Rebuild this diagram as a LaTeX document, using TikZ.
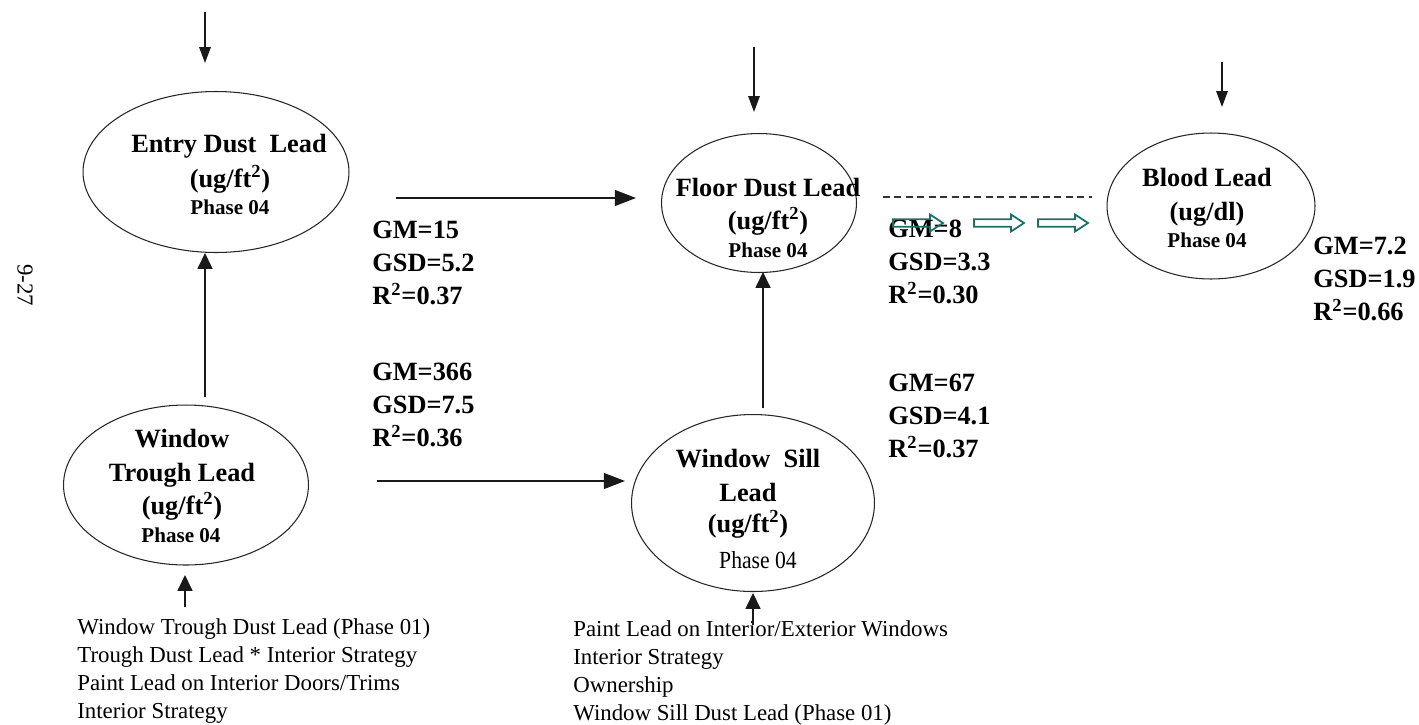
\documentclass[tikz,border=0pt]{standalone}
\usepackage{fontspec}
\setmainfont{Liberation Serif}
\usetikzlibrary{arrows.meta,shapes.geometric}
\definecolor{tealarrow}{RGB}{25,112,104}
\begin{document}
\begin{tikzpicture}[x=0.02cm,y=-0.02cm,
  oval/.style={draw=black!85, line width=0.6pt, ellipse, inner sep=0pt},
  title/.style={font=\fontsize{15}{18}\selectfont\bfseries, anchor=base, inner sep=0pt},
  phase/.style={font=\fontsize{12}{14}\selectfont\bfseries, anchor=base, inner sep=0pt},
  stat/.style={font=\fontsize{15}{18.8}\selectfont\bfseries, align=left, anchor=north west, inner sep=0pt},
  cov/.style={font=\fontsize{13}{15.9}\selectfont, align=left, anchor=north west, inner sep=0pt},
  arr/.style={line width=0.8pt, draw=black!90, -{Triangle[length=9pt,width=6.5pt]}},
  uparr/.style={line width=0.8pt, draw=black!90, -{Triangle[length=9pt,width=8.5pt]}},
  harr/.style={line width=0.9pt, draw=black!90, -{Triangle[length=12pt,width=9pt]}},
  dash line/.style={line width=0.6pt, draw=black!80, dash pattern=on 4pt off 2.5pt},
  hollow/.pic={\draw[tealarrow, line width=1pt, line join=miter]
     (0,-3.8) -- (37,-3.8) -- (37,-8.5) -- (50,0) -- (37,8.5) -- (37,3.8) -- (0,3.8) -- cycle;}
]
\path[fill=white] (0,0) rectangle (1419,724);
\useasboundingbox (0,0) rectangle (1419,724);

% page number
\node[font=\fontsize{13}{15}\selectfont, rotate=-90, inner sep=0pt] (pg) at (25,285) {9-27};

% ellipses
\node[oval, minimum width=5.32cm, minimum height=3.22cm] (entry) at (216,172) {};
\node[oval, minimum width=4.9cm, minimum height=3.2cm] (trough) at (186,485) {};
\node[oval, minimum width=3.9cm, minimum height=2.78cm] (floor) at (759,203) {};
\node[oval, minimum width=4.86cm, minimum height=3.54cm] (sill) at (753,503) {};
\node[oval, minimum width=4.16cm, minimum height=2.92cm] (blood) at (1211,206) {};

% ellipse texts
\node[title] (entryA) at (229,152) {Entry Dust~ Lead};
\node[title] (entryB) at (230,187) {(ug/ft\textsuperscript{2})};
\node[phase] (entryC) at (230,214) {Phase 04};

\node[title] (troughA) at (182,447) {Window};
\node[title] (troughB) at (182,481) {Trough Lead};
\node[title] (troughC) at (182,514) {(ug/ft\textsuperscript{2})};
\node[phase] (troughD) at (181,542) {Phase 04};

\node[title] (floorA) at (768,196) {Floor Dust Lead};
\node[title] (floorB) at (768,229) {(ug/ft\textsuperscript{2})};
\node[phase] (floorC) at (768,257) {Phase 04};

\node[title] (sillA) at (748,467) {Window~ Sill};
\node[title] (sillB) at (748,501) {Lead};
\node[title] (sillC) at (748,532) {(ug/ft\textsuperscript{2})};
\node[anchor=base, inner sep=0pt, font=\fontsize{14}{16}\selectfont] (sillD) at (758,568) {\scalebox{0.88}[1]{Phase 04}};

\node[title] (bloodA) at (1207,186) {Blood Lead};
\node[title] (bloodB) at (1207,220) {(ug/dl)};
\node[phase] (bloodC) at (1207,247) {Phase 04};

% statistics
\node[stat] (s1) at (372,221) {GM=15\\GSD=5.2\\R\textsuperscript{2}=0.37};
\node[stat] (s2) at (372,363) {GM=366\\GSD=7.5\\R\textsuperscript{2}=0.36};
\node[stat] (s3) at (888,220) {GM=8\\GSD=3.3\\R\textsuperscript{2}=0.30};
\node[stat] (s4) at (888,374) {GM=67\\GSD=4.1\\R\textsuperscript{2}=0.37};
\node[stat] (s5) at (1313,237) {GM=7.2\\GSD=1.9\\R\textsuperscript{2}=0.66};

% covariates
\node[cov] (c1) at (77,618) {Window Trough Dust Lead (Phase 01)\\Trough Dust Lead * Interior Strategy\\Paint Lead on Interior Doors/Trims\\Interior Strategy};
\node[cov] (c2) at (573,620) {Paint Lead on Interior/Exterior Windows\\Interior Strategy\\Ownership\\Window Sill Dust Lead (Phase 01)};

% connector end points
\coordinate (t1a) at (205,12);   \coordinate (t1b) at (205,63);
\coordinate (t2a) at (754,47);   \coordinate (t2b) at (754,112);
\coordinate (t3a) at (1222,62);  \coordinate (t3b) at (1222,107);
\coordinate (v1a) at (205,397);  \coordinate (v1b) at (205,253);
\coordinate (v2a) at (763,408);  \coordinate (v2b) at (763,272);
\coordinate (b1a) at (185,607);  \coordinate (b1b) at (185,575);
\coordinate (b2a) at (753,625);  \coordinate (b2b) at (753,593);
\coordinate (h1a) at (396,198);  \coordinate (h1b) at (636,198);
\coordinate (h2a) at (377,481);  \coordinate (h2b) at (625,481);
\coordinate (d1a) at (883,197);  \coordinate (d1b) at (1092,197);

\draw[arr] (t1a) -- (t1b);
\draw[arr] (t2a) -- (t2b);
\draw[arr] (t3a) -- (t3b);
\draw[uparr] (v1a) -- (v1b);
\draw[uparr] (v2a) -- (v2b);
\draw[uparr] (b1a) -- (b1b);
\draw[uparr] (b2a) -- (b2b);
\draw[harr] (h1a) -- (h1b);
\draw[harr] (h2a) -- (h2b);
\draw[dash line] (d1a) -- (d1b);

% hollow teal arrows
\pic at (893,223) {hollow};
\pic at (974,223) {hollow};
\pic at (1038,223) {hollow};
\end{tikzpicture}
\end{document}
